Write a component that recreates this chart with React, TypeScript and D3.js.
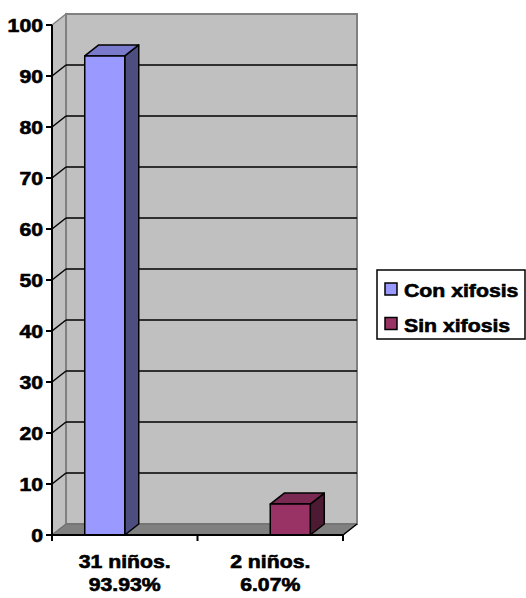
import React from "react";
import * as d3 from "d3";

const categoriesLine1 = ["31 niños.", "2 niños."];
const categoriesLine2 = ["93.93%", "6.07%"];
const seriesNames = ["Con xifosis", "Sin xifosis"];
const conXifosis: (number | null)[] = [93.93, null];
const sinXifosis: (number | null)[] = [null, 6.07];
const yTickValues = [0, 10, 20, 30, 40, 50, 60, 70, 80, 90, 100];

const seriesColors = [
  { front: "#9999ff", top: "#7a7acc", side: "#4d4d80" },
  { front: "#993366", top: "#7a2952", side: "#4d1a33" },
];

const W = 526;
const H = 598;
const left = 52;
const right = 343;
const top = 25;
const bottom = 535;
const DX = 14;
const DY = -11;
const FONT = "'Liberation Sans', Arial, Helvetica, sans-serif";
const SX = 1.18;
const textStyle: React.CSSProperties = { fontWeight: 700 };

export default function App() {
  const y = d3.scaleLinear().domain([0, 100]).range([bottom, top]);
  const x0 = d3.scaleBand<number>().domain(d3.range(categoriesLine1.length)).range([left, right]).paddingInner(0).paddingOuter(0);
  const bw = x0.bandwidth();
  const x1 = d3.scaleBand<number>().domain(d3.range(seriesNames.length)).range([bw * 0.225, bw * 0.775]);
  const allSeries = [conXifosis, sinXifosis];

  const pts = (arr: [number, number][]) => arr.map((p) => p.join(",")).join(" ");

  const bars: React.ReactNode[] = [];
  allSeries.forEach((vals, si) => {
    vals.forEach((v, ci) => {
      if (v == null) return;
      const xa = (x0(ci) as number) + (x1(si) as number);
      const xb = xa + x1.bandwidth();
      const yt = y(v);
      const yb = y(0);
      const c = seriesColors[si];
      bars.push(
        <g key={`b${si}-${ci}`} stroke="#000" strokeWidth={1.5} strokeLinejoin="round">
          <polygon points={pts([[xb, yt], [xb + DX, yt + DY], [xb + DX, yb + DY], [xb, yb]])} fill={c.side} />
          <polygon points={pts([[xa, yt], [xa + DX, yt + DY], [xb + DX, yt + DY], [xb, yt]])} fill={c.top} />
          <rect x={xa} y={yt} width={xb - xa} height={yb - yt} fill={c.front} />
        </g>
      );
    });
  });

  const xTicks = [left, ...categoriesLine1.map((_, i) => (x0(i) as number) + bw)];

  return (
    <svg width={W} height={H} style={{ position: "absolute", left: 0, top: 0, background: "#fff" }} fontFamily={FONT}>
      {/* left side wall */}
      <polygon points={pts([[left, bottom], [left, top], [left + DX, top + DY], [left + DX, bottom + DY]])} fill="#c0c0c0" stroke="#808080" strokeWidth={1.5} />
      {/* back wall */}
      <rect x={left + DX} y={top + DY} width={right - left} height={bottom - top} fill="#c0c0c0" stroke="#808080" strokeWidth={2} />
      {/* floor */}
      <polygon points={pts([[left, bottom], [left + DX, bottom + DY], [right + DX, bottom + DY], [right, bottom]])} fill="#808080" stroke="#6a6a6a" strokeWidth={1} />
      <line x1={right} y1={bottom} x2={right + DX} y2={bottom + DY} stroke="#000" strokeWidth={1.5} />
      {/* gridlines */}
      {yTickValues.filter((t) => t > 0 && t < 100).map((t) => (
        <g key={`g${t}`} stroke="#000" strokeWidth={1.5}>
          <line x1={left} y1={y(t)} x2={left + DX} y2={y(t) + DY} />
          <line x1={left + DX} y1={y(t) + DY} x2={right + DX} y2={y(t) + DY} />
        </g>
      ))}
      {bars}
      {/* axes */}
      <line x1={left} y1={top} x2={left} y2={bottom} stroke="#000" strokeWidth={2} />
      <line x1={left} y1={bottom} x2={right} y2={bottom} stroke="#000" strokeWidth={2} />
      {yTickValues.map((t) => (
        <g key={`yt${t}`}>
          <line x1={left - 6} y1={y(t)} x2={left} y2={y(t)} stroke="#000" strokeWidth={2} />
          <text transform={`translate(${left - 9},${y(t) + 6.5}) scale(${SX},1)`} textAnchor="end" fontSize={18} style={textStyle} fill="#000" stroke="#000" strokeWidth={0.6}>
            {t}
          </text>
        </g>
      ))}
      {xTicks.map((xt, i) => (
        <line key={`xt${i}`} x1={xt} y1={bottom} x2={xt} y2={bottom + 6} stroke="#000" strokeWidth={2} />
      ))}
      {categoriesLine1.map((c, i) => {
        const cx = (x0(i) as number) + bw / 2;
        return (
          <g key={`xl${i}`} fontSize={18} style={textStyle} fill="#000" stroke="#000" strokeWidth={0.6}>
            <text transform={`translate(${cx},568) scale(${SX},1)`} textAnchor="middle">{c}</text>
            <text transform={`translate(${cx},591) scale(${SX},1)`} textAnchor="middle">{categoriesLine2[i]}</text>
          </g>
        );
      })}
      {/* legend */}
      <rect x={377} y={270} width={148} height={69} fill="#fff" stroke="#000" strokeWidth={1.5} />
      {seriesNames.map((s, i) => (
        <g key={`lg${i}`}>
          <rect x={385} y={283 + i * 34.5} width={12} height={12} fill={seriesColors[i].front} stroke="#000" strokeWidth={1.5} />
          <text transform={`translate(404,${297 + i * 34.5}) scale(${SX},1)`} fontSize={18} style={textStyle} fill="#000" stroke="#000" strokeWidth={0.6}>{s}</text>
        </g>
      ))}
    </svg>
  );
}
